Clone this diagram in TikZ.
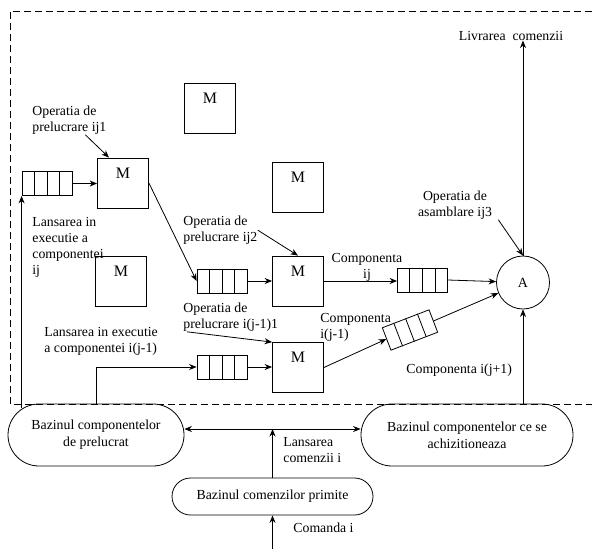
\documentclass[tikz,border=0pt]{standalone}
\usepackage{fontspec}
\setmainfont{Liberation Serif}
\usetikzlibrary{arrows.meta,shapes.misc,calc}
\newcommand\queuecells[1]{%
  \foreach \k in {0.25,0.5,0.75}
    \draw ($(#1.north west)!\k!(#1.north east)$) -- ($(#1.south west)!\k!(#1.south east)$);}

\begin{document}
\begin{tikzpicture}[x=1pt,y=-1pt, line width=0.8pt,
    >={Stealth[length=7.5pt,width=6pt]},
    lbl/.style={font=\fontsize{13.8}{16}\selectfont, inner sep=0pt, align=left, anchor=north west},
    mbox/.style={draw, minimum width=51pt, minimum height=50pt, inner sep=0pt,
      label={[anchor=north, yshift=-10pt, inner sep=0pt, font=\fontsize{16}{16}\selectfont]north:M}},
    queue/.style={draw, minimum width=50pt, minimum height=24pt, inner sep=0pt},
    pool/.style={draw, rounded rectangle, minimum height=62pt, inner sep=0pt, align=center,
      font=\fontsize{13.8}{17}\selectfont}]
        \useasboundingbox (0,0) rectangle (592,549);
        \draw[dash pattern=on 7pt off 4pt] (592,11) -| (10,404) -- (592,404);

        % masini
        \node[mbox] (mfree1) at (210,108.5) {};
        \node[mbox] (mfree2) at (298,187.5) {};
        \node[mbox] (mfree3) at (121,281.5) {};
        \node[mbox] (m1) at (123,183) {};
        \node[mbox] (m2) at (298,281) {};
        \node[mbox] (m3) at (298,367.5) {};

        % cozi
        \node[queue] (q1) at (47,183.5) {};
        \node[queue] (q2) at (222,281) {};
        \node[queue] (q3) at (222,367) {};
        \node[queue] (q4) at (422.5,280) {};
        \node[queue, rotate=21] (q5) at (410,330) {};
        \foreach \q in {q1,q2,q3,q4,q5} {\queuecells{\q}}

        \node[draw, circle, minimum size=53pt, inner sep=0pt, font=\fontsize{14}{14}\selectfont] (a) at (523,282.5) {A};

        % bazine
        \node[pool, minimum width=176pt] (lpool) at (96,435) {Bazinul componentelor\\de prelucrat};
        \node[pool, minimum width=212pt] (rpool) at (467,435) {Bazinul componentelor ce se\\achizitioneaza};
        \node[pool, minimum width=201pt, minimum height=37pt] (cpool) at (272.5,496.5) {Bazinul comenzilor primite};

        % etichete
        \node[lbl, anchor=base] (livr) at (511,40) {Livrarea\enspace comenzii};
        \node[lbl] (op1) at (32,105.5) {Operatia de\\prelucrare ij1};
        \node[lbl] (lanij) at (32,216.5) {Lansarea in\\executie a\\componentei\\ij};
        \node[lbl] (op2) at (183,215.5) {Operatia de\\prelucrare ij2};
        \node[lbl] (op3) at (183,302.5) {Operatia de\\prelucrare i(j-1)1};
        \node[lbl] (lanij1) at (44,326.5) {Lansarea in executie\\a componentei i(j-1)};
        \node[lbl, align=center, anchor=north] (opA) at (455,190.5) {Operatia de\\asamblare ij3};
        \node[lbl, align=center, anchor=north] (compij) at (367,252.5) {Componenta\\ij};
        \node[lbl] (compij1) at (320,312.5) {Componenta\\i(j-1)};
        \node[lbl] (compij2) at (406,363.5) {Componenta i(j+1)};
        \node[lbl] (lancmd) at (283,437.5) {Lansarea\\comenzii i};
        \node[lbl] (cmd) at (293,522.5) {Comanda i};

        % fluxul componentelor
        \draw[->] (q1.east) -- (q1.east -| m1.west);
        \draw[->] (m1.east) -- (q2.west);
        \draw[->] (q2.east) -- (q2.east -| m2.west);
        \draw[->] (m2.east) -- (m2.east -| q4.west);
        \draw[->] (q4.east) -- (a);
        \draw[->] (q3.east) -- (q3.east -| m3.west);
        \draw[->] (m3.east) -- (q5.west);
        \draw[->] (q5.east) -- (a);
        \draw[->] (a.north) -- (a.north |- livr.south);
        \draw[->] (a |- rpool.north) -- (a.south);

        % operatii
        \draw[->] ([xshift=16pt]op1.south) -- ([xshift=-14pt]m1.north);
        \draw[->] (op2.east) -- (m2.north);
        \draw[->] ([xshift=4pt]op3.south west) -- (m3.north west);
        \draw[->] ([xshift=6pt]opA.south east) -- (a.north);

        % lansari
        \draw[->] (q1.south west |- lpool.160) -- (q1.south west);
        \draw[->] (lpool.north) |- (q3.west);
        \coordinate (link) at ([yshift=6pt]lpool.east);
        \draw[<->] (link) -- (link -| rpool.west);
        \draw[->] (cpool.north) -- (cpool.north |- link);
        \coordinate (cmdin) at (272.5,549);
        \draw[->] (cmdin) -- (cpool.south);
      \end{tikzpicture}
\end{document}
